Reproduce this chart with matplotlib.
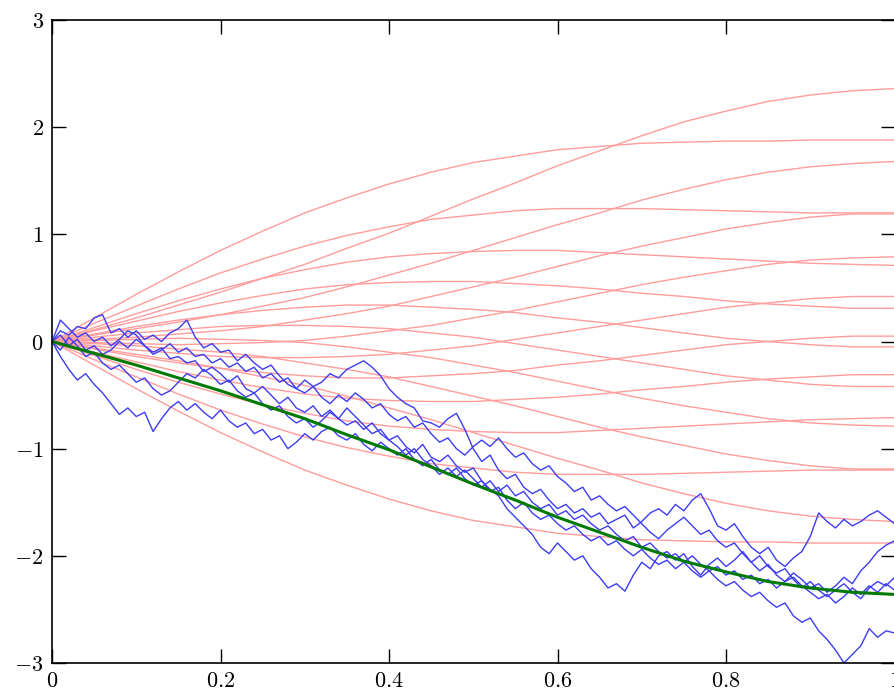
import matplotlib
matplotlib.use("Agg")
import matplotlib.pyplot as plt
import numpy as np
from matplotlib.ticker import FuncFormatter

plt.rcParams['mathtext.fontset'] = 'cm'

# sample paths (blue), read every 0.01
t_blue = np.linspace(0, 1, 101)
path1 = [0.00, 0.10, 0.06, 0.14, 0.12, 0.22, 0.25, 0.08, 0.12, 0.04,
         0.10, 0.02, 0.06, 0.00, 0.08, 0.12, 0.20, 0.04, -0.06, -0.02,
         -0.10, -0.08, -0.18, -0.12, -0.20, -0.26, -0.22, -0.32, -0.40, -0.44,
         -0.36, -0.42, -0.38, -0.30, -0.34, -0.26, -0.22, -0.18, -0.24, -0.32,
         -0.44, -0.52, -0.58, -0.62, -0.74, -0.76, -0.80, -0.72, -0.67, -0.82,
         -1.00, -1.12, -1.06, -1.20, -1.28, -1.24, -1.36, -1.42, -1.38, -1.48,
         -1.56, -1.52, -1.60, -1.56, -1.64, -1.60, -1.70, -1.66, -1.62, -1.74,
         -1.68, -1.60, -1.56, -1.62, -1.52, -1.58, -1.48, -1.42, -1.56, -1.72,
         -1.76, -1.70, -1.82, -1.92, -1.98, -1.92, -2.04, -2.10, -2.02, -1.96,
         -1.82, -1.60, -1.68, -1.74, -1.66, -1.72, -1.68, -1.62, -1.58, -1.64,
         -1.70]
path2 = [0.00, 0.20, 0.12, 0.04, 0.08, 0.00, 0.04, -0.04, 0.02, 0.10,
         0.06, -0.04, -0.10, -0.06, -0.16, -0.14, -0.20, -0.18, -0.28, -0.24,
         -0.30, -0.38, -0.32, -0.44, -0.48, -0.42, -0.50, -0.58, -0.52, -0.62,
         -0.66, -0.60, -0.70, -0.64, -0.72, -0.78, -0.74, -0.82, -0.76, -0.86,
         -0.92, -0.88, -0.98, -1.04, -0.96, -1.08, -1.12, -1.06, -1.16, -1.22,
         -1.18, -1.30, -1.38, -1.44, -1.56, -1.64, -1.72, -1.80, -1.92, -1.98,
         -1.88, -1.96, -2.04, -2.00, -2.12, -2.20, -2.30, -2.26, -2.33, -2.18,
         -2.06, -2.12, -2.00, -1.96, -2.04, -1.98, -2.10, -2.18, -2.08, -2.02,
         -2.10, -2.04, -1.96, -2.06, -2.14, -2.08, -2.18, -2.24, -2.16, -2.22,
         -2.30, -2.26, -2.34, -2.28, -2.20, -2.26, -2.14, -2.06, -1.96, -1.90,
         -1.86]
path3 = [0.00, -0.14, -0.26, -0.36, -0.30, -0.40, -0.48, -0.58, -0.68, -0.62,
         -0.70, -0.66, -0.84, -0.72, -0.62, -0.56, -0.64, -0.58, -0.66, -0.72,
         -0.64, -0.74, -0.80, -0.76, -0.86, -0.82, -0.92, -0.88, -1.00, -0.94,
         -0.86, -0.92, -0.84, -0.80, -0.88, -0.92, -0.86, -0.96, -1.02, -0.94,
         -1.00, -1.06, -1.00, -1.10, -1.16, -1.10, -1.20, -1.24, -1.18, -1.28,
         -1.34, -1.30, -1.40, -1.36, -1.48, -1.56, -1.50, -1.60, -1.66, -1.62,
         -1.70, -1.76, -1.72, -1.80, -1.86, -1.82, -1.90, -1.86, -1.94, -2.00,
         -1.94, -2.02, -2.08, -2.04, -2.12, -2.06, -2.14, -2.20, -2.14, -2.22,
         -2.28, -2.24, -2.32, -2.38, -2.34, -2.42, -2.48, -2.44, -2.56, -2.62,
         -2.58, -2.70, -2.78, -2.88, -3.00, -2.92, -2.84, -2.68, -2.76, -2.70,
         -2.72]
path4 = [0.00, 0.06, -0.04, 0.02, -0.08, -0.04, -0.12, -0.08, 0.00, -0.06,
         0.02, -0.04, -0.12, -0.08, -0.02, -0.10, -0.06, -0.14, -0.12, -0.20,
         -0.16, -0.24, -0.20, -0.28, -0.24, -0.34, -0.30, -0.38, -0.34, -0.44,
         -0.48, -0.42, -0.52, -0.58, -0.50, -0.56, -0.48, -0.54, -0.62, -0.58,
         -0.68, -0.74, -0.70, -0.80, -0.76, -0.86, -0.94, -0.90, -1.00, -1.06,
         -0.98, -0.92, -0.98, -0.90, -1.00, -1.08, -1.04, -1.14, -1.20, -1.16,
         -1.26, -1.32, -1.40, -1.36, -1.48, -1.44, -1.52, -1.58, -1.54, -1.62,
         -1.70, -1.78, -1.84, -1.76, -1.70, -1.64, -1.72, -1.80, -1.76, -1.86,
         -1.92, -1.88, -1.98, -2.06, -2.00, -2.10, -2.16, -2.12, -2.22, -2.30,
         -2.24, -2.32, -2.38, -2.32, -2.26, -2.34, -2.40, -2.30, -2.24, -2.28,
         -2.20]
path5 = [0.00, -0.08, 0.04, -0.04, -0.14, -0.10, -0.20, -0.26, -0.22, -0.30,
         -0.38, -0.34, -0.44, -0.50, -0.46, -0.38, -0.30, -0.34, -0.26, -0.32,
         -0.40, -0.36, -0.46, -0.52, -0.48, -0.58, -0.64, -0.60, -0.70, -0.76,
         -0.72, -0.80, -0.74, -0.66, -0.72, -0.62, -0.70, -0.78, -0.86, -0.82,
         -0.92, -0.98, -1.06, -1.00, -1.10, -1.16, -1.24, -1.18, -1.26, -1.20,
         -1.28, -1.36, -1.30, -1.40, -1.34, -1.44, -1.40, -1.50, -1.56, -1.52,
         -1.62, -1.58, -1.66, -1.62, -1.70, -1.76, -1.72, -1.80, -1.86, -1.82,
         -1.92, -1.88, -1.96, -2.02, -1.98, -2.06, -2.00, -2.08, -2.14, -2.10,
         -2.18, -2.14, -2.22, -2.18, -2.26, -2.22, -2.30, -2.24, -2.20, -2.28,
         -2.34, -2.40, -2.36, -2.44, -2.38, -2.30, -2.36, -2.28, -2.34, -2.26,
         -2.32]
blue_paths = [path1, path2, path3, path4, path5]

# smooth curves (red), read every 0.05
t_red = np.linspace(0, 1, 21)
red01 = [0.00, 0.22, 0.44, 0.65, 0.85, 1.03, 1.20, 1.34, 1.47, 1.58, 1.67,
         1.73, 1.79, 1.82, 1.85, 1.86, 1.87, 1.87, 1.88, 1.88, 1.88]
red02 = [0.00, 0.11, 0.22, 0.34, 0.46, 0.59, 0.72, 0.87, 1.01, 1.17, 1.33,
         1.48, 1.64, 1.78, 1.92, 2.05, 2.15, 2.24, 2.30, 2.34, 2.36]
red03 = [0.00, 0.17, 0.33, 0.49, 0.64, 0.77, 0.89, 0.99, 1.07, 1.14, 1.18,
         1.22, 1.24, 1.24, 1.24, 1.23, 1.22, 1.21, 1.20, 1.20, 1.20]
red04 = [0.00, 0.06, 0.12, 0.18, 0.25, 0.33, 0.41, 0.51, 0.62, 0.73, 0.85,
         0.97, 1.09, 1.20, 1.32, 1.42, 1.51, 1.58, 1.63, 1.66, 1.68]
red05 = [0.00, 0.13, 0.26, 0.38, 0.49, 0.59, 0.67, 0.74, 0.79, 0.82, 0.84,
         0.85, 0.85, 0.83, 0.81, 0.79, 0.77, 0.75, 0.73, 0.72, 0.71]
red06 = [0.00, 0.02, 0.04, 0.07, 0.10, 0.14, 0.20, 0.26, 0.33, 0.42, 0.51,
         0.60, 0.70, 0.80, 0.89, 0.97, 1.05, 1.11, 1.16, 1.19, 1.19]
red07 = [0.00, 0.10, 0.19, 0.28, 0.36, 0.43, 0.49, 0.53, 0.55, 0.56, 0.56,
         0.54, 0.52, 0.49, 0.45, 0.42, 0.38, 0.35, 0.33, 0.31, 0.31]
red08 = [0.00, -0.01, -0.02, -0.03, -0.02, -0.01, 0.01, 0.05, 0.10, 0.15, 0.22,
         0.29, 0.37, 0.45, 0.53, 0.60, 0.66, 0.72, 0.76, 0.78, 0.79]
red09 = [0.00, 0.07, 0.14, 0.20, 0.25, 0.29, 0.32, 0.34, 0.34, 0.32, 0.30,
         0.27, 0.22, 0.18, 0.13, 0.08, 0.03, 0.00, -0.03, -0.05, -0.05]
red10 = [0.00, -0.04, -0.08, -0.11, -0.14, -0.15, -0.15, -0.14, -0.12, -0.08, -0.04,
         0.02, 0.08, 0.14, 0.20, 0.26, 0.32, 0.36, 0.40, 0.42, 0.42]
red11 = [0.00, -0.22, -0.44, -0.65, -0.85, -1.03, -1.20, -1.34, -1.47, -1.58, -1.67,
         -1.73, -1.79, -1.82, -1.85, -1.86, -1.87, -1.87, -1.88, -1.88, -1.88]
red12 = [0.00, -0.11, -0.22, -0.34, -0.46, -0.59, -0.72, -0.87, -1.01, -1.17, -1.33,
         -1.48, -1.64, -1.78, -1.92, -2.05, -2.15, -2.24, -2.30, -2.34, -2.36]
red13 = [0.00, -0.17, -0.33, -0.49, -0.64, -0.77, -0.89, -0.99, -1.07, -1.14, -1.18,
         -1.22, -1.24, -1.24, -1.24, -1.23, -1.22, -1.21, -1.20, -1.20, -1.20]
red14 = [0.00, -0.06, -0.12, -0.18, -0.25, -0.33, -0.41, -0.51, -0.62, -0.73, -0.85,
         -0.97, -1.09, -1.20, -1.32, -1.42, -1.51, -1.58, -1.63, -1.66, -1.68]
red15 = [0.00, -0.13, -0.26, -0.38, -0.49, -0.59, -0.67, -0.74, -0.79, -0.82, -0.84,
         -0.85, -0.85, -0.83, -0.81, -0.79, -0.77, -0.75, -0.73, -0.72, -0.71]
red16 = [0.00, -0.02, -0.04, -0.07, -0.10, -0.14, -0.20, -0.26, -0.33, -0.42, -0.51,
         -0.60, -0.70, -0.80, -0.89, -0.97, -1.05, -1.11, -1.16, -1.19, -1.19]
red17 = [0.00, -0.10, -0.19, -0.28, -0.36, -0.43, -0.49, -0.53, -0.55, -0.56, -0.56,
         -0.54, -0.52, -0.49, -0.45, -0.42, -0.38, -0.35, -0.33, -0.31, -0.31]
red18 = [0.00, 0.01, 0.02, 0.03, 0.02, 0.01, -0.01, -0.05, -0.10, -0.15, -0.22,
         -0.29, -0.37, -0.45, -0.53, -0.60, -0.66, -0.72, -0.76, -0.78, -0.79]
red19 = [0.00, -0.07, -0.14, -0.20, -0.25, -0.29, -0.32, -0.34, -0.34, -0.32, -0.30,
         -0.27, -0.22, -0.18, -0.13, -0.08, -0.03, 0.00, 0.03, 0.05, 0.05]
red20 = [0.00, 0.04, 0.08, 0.11, 0.14, 0.15, 0.15, 0.14, 0.12, 0.08, 0.04,
         -0.02, -0.08, -0.14, -0.20, -0.26, -0.32, -0.36, -0.40, -0.42, -0.42]
red_curves = [red01, red02, red03, red04, red05, red06, red07, red08, red09, red10,
              red11, red12, red13, red14, red15, red16, red17, red18, red19, red20]

# highlighted curve (green)
green = [0.00, -0.11, -0.22, -0.34, -0.46, -0.59, -0.72, -0.87, -1.01, -1.17, -1.33,
         -1.48, -1.64, -1.78, -1.92, -2.05, -2.15, -2.24, -2.30, -2.34, -2.36]

fig = plt.figure(figsize=(8.94, 6.95), dpi=100)
ax = fig.add_axes([52 / 894, 32 / 695, 842.5 / 894, 643 / 695])
for y in red_curves:
    ax.plot(t_red, y, color='#ff9c9c', lw=1)
for p in blue_paths:
    ax.plot(t_blue, p, color='#3c3cf5', lw=1)
ax.plot(t_red, green, color='#007a00', lw=2.2)

ax.set_xlim(0, 1)
ax.set_ylim(-3, 3)
ax.set_xticks([0, 0.2, 0.4, 0.6, 0.8, 1])
ax.set_yticks([-3, -2, -1, 0, 1, 2, 3])
fmt = FuncFormatter(lambda v, pos: f'${v:g}$')
ax.xaxis.set_major_formatter(fmt)
ax.yaxis.set_major_formatter(fmt)
ax.tick_params(direction='in', length=10, width=1, top=True, right=True,
               labelsize=16, pad=6)
for s in ax.spines.values():
    s.set_linewidth(1.2)

plt.savefig('out.png')
